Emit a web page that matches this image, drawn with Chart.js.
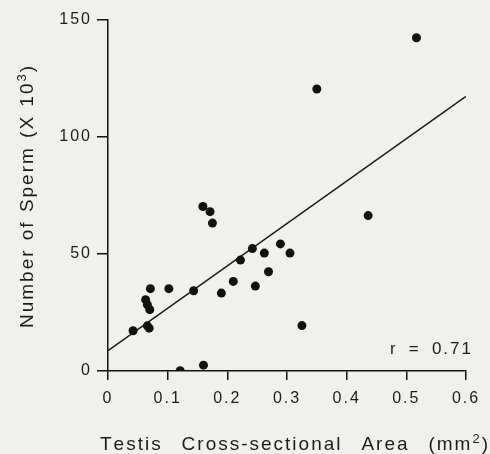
<!DOCTYPE html>
<html>
<head>
<meta charset="utf-8">
<script src="https://cdn.jsdelivr.net/npm/chart.js@4"></script>
<style>
html,body{margin:0;padding:0;background:#f2f0ec;}
#wrap{width:490px;height:454px;position:relative;}
</style>
</head>
<body>
<div id="wrap"><canvas id="c" width="490" height="454"></canvas></div>
<script>
// Testis cross-sectional area (mm^2)
const areaX = [0.042, 0.063, 0.066, 0.070, 0.066, 0.069, 0.071, 0.102, 0.121, 0.1435,
               0.159, 0.171, 0.175, 0.160, 0.190, 0.210, 0.222, 0.242, 0.247, 0.262,
               0.269, 0.289, 0.305, 0.325, 0.350, 0.517, 0.436];
// Number of sperm (x 10^3)
const spermY = [17.2, 30.5, 28.3, 26.2, 19.3, 18.3, 35.2, 35.2, 0.1, 34.3,
                70.3, 68.1, 63.2, 2.5, 33.3, 38.3, 47.4, 52.3, 36.3, 50.4,
                42.4, 54.3, 50.4, 19.4, 120.5, 142.4, 66.4];
// Regression line end points
const fitX = [0, 0.6];
const fitY = [8.7, 117.4];
const xTicks = [0, 0.1, 0.2, 0.3, 0.4, 0.5, 0.6];
const yTicks = [0, 50, 100, 150];
const rLabel = 'r = 0.71';

const FONT = '"Liberation Sans", Arial, Helvetica, sans-serif';
const INK = '#1c1c1c';

// Draws text with a fixed letter spacing; spaces absorb whatever is left so
// the whole string spans `target` pixels.
function drawSpaced(ctx, parts, x, y, target, spacing, rotate) {
  ctx.save();
  ctx.translate(x, y);
  if (rotate) ctx.rotate(-Math.PI / 2);
  ctx.fillStyle = INK;
  ctx.textBaseline = 'alphabetic';
  ctx.textAlign = 'left';
  let natural = 0, nChars = 0, nSpaces = 0;
  parts.forEach(p => {
    ctx.font = p.size + 'px ' + FONT;
    for (const ch of p.t) {
      if (ch === ' ') { nSpaces++; continue; }
      natural += ctx.measureText(ch).width; nChars++;
    }
  });
  const used = natural + spacing * (nChars - 1);
  const spaceW = nSpaces ? Math.max(0, (target - used) / nSpaces) : 0;
  let cx = rotate ? -target / 2 : 0;
  let first = true;
  parts.forEach(p => {
    ctx.font = p.size + 'px ' + FONT;
    for (const ch of p.t) {
      if (ch === ' ') { cx += spaceW; continue; }
      if (!first) cx += spacing;
      ctx.fillText(ch, cx, -(p.rise || 0));
      cx += ctx.measureText(ch).width;
      first = false;
    }
  });
  ctx.restore();
}

const decor = {
  id: 'decor',
  beforeDraw(chart) {
    const ctx = chart.ctx;
    ctx.save();
    ctx.fillStyle = '#f2f0ec';
    ctx.fillRect(0, 0, chart.width, chart.height);
    ctx.restore();
    ctx.letterSpacing = '2px';
  },
  afterDraw(chart) {
    const ctx = chart.ctx;
    ctx.letterSpacing = '0px';
    // x title
    drawSpaced(ctx, [{t: 'Testis Cross-sectional Area (mm', size: 19},
                     {t: '2', size: 13, rise: 7}, {t: ')', size: 19}], 100, 450, 388, 2, false);
    // y title
    drawSpaced(ctx, [{t: 'Number of Sperm (X 10', size: 19},
                     {t: '3', size: 13, rise: 7}, {t: ')', size: 19}], 33, 197, 262, 2, true);
    // r label
    drawSpaced(ctx, [{t: rLabel, size: 17}], 390, 354, 81, 2, false);
  }
};

new Chart(document.getElementById('c'), {
  type: 'scatter',
  data: {
    datasets: [
      {
        data: areaX.map((x, i) => ({x: x, y: spermY[i]})),
        pointRadius: 4.5,
        pointHoverRadius: 4.5,
        pointBackgroundColor: '#111',
        pointBorderWidth: 0,
        showLine: false
      },
      {
        type: 'line',
        data: fitX.map((x, i) => ({x: x, y: fitY[i]})),
        borderColor: '#1a1a1a',
        borderWidth: 1.6,
        pointRadius: 0,
        fill: false
      }
    ]
  },
  options: {
    responsive: false,
    animation: false,
    devicePixelRatio: 1,
    layout: {padding: {top: 20, right: 24, left: 0, bottom: 0}},
    plugins: {legend: {display: false}, tooltip: {enabled: false}},
    scales: {
      x: {
        type: 'linear', min: 0, max: 0.6,
        afterBuildTicks: s => { s.ticks = xTicks.map(v => ({value: v})); },
        afterFit: s => { s.height = 83; },
        ticks: {
          callback: v => (v === 0 ? '0' : v.toFixed(1)),
          font: {family: FONT, size: 16},
          color: INK, padding: 9, maxRotation: 0, autoSkip: false
        },
        grid: {drawOnChartArea: false, drawTicks: true, tickLength: 9, color: '#111', lineWidth: 1.5},
        border: {display: true, color: '#111', width: 1.5}
      },
      y: {
        type: 'linear', min: 0, max: 150,
        afterBuildTicks: s => { s.ticks = yTicks.map(v => ({value: v})); },
        afterFit: s => { s.width = 108; },
        ticks: {
          font: {family: FONT, size: 16},
          color: INK, padding: 5
        },
        grid: {drawOnChartArea: false, drawTicks: true, tickLength: 11, color: '#111', lineWidth: 1.5},
        border: {display: true, color: '#111', width: 1.5}
      }
    }
  },
  plugins: [decor]
});
</script>
</body>
</html>
